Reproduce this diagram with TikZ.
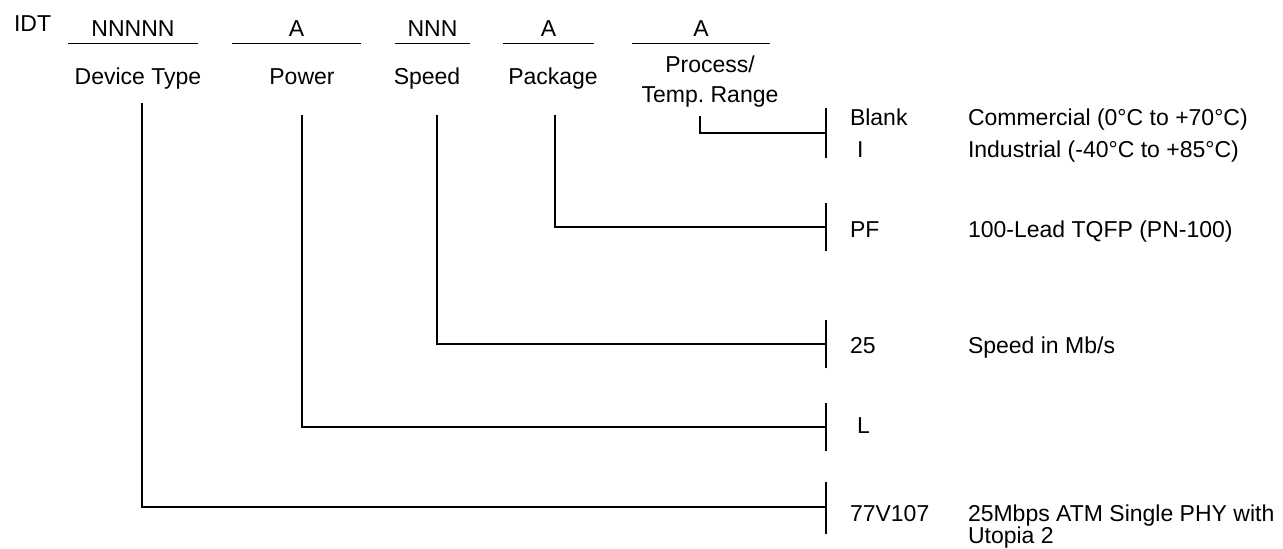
\documentclass[tikz,border=0pt]{standalone}
\usepackage{fontspec}
\setmainfont{Liberation Sans}
\frenchspacing
\begin{document}
\begin{tikzpicture}[x=1pt,y=-1pt,
  every node/.style={inner sep=0pt,outer sep=0pt,font=\fontsize{23}{30}\selectfont\frenchspacing},
  wire/.style={line width=1.3pt,line cap=butt,line join=miter},
  field/.style={anchor=base},
  code/.style={anchor=base west},
  desc/.style={anchor=base west,align=left}]
\useasboundingbox (0,0) rectangle (1283,549);
% header
\node[code] (idt) at (14,31) {IDT};
\node[field] (f1) at (133,36) {NNNNN};
\node[field] (f2) at (296.5,36) {A};
\node[field] (f3) at (432.5,36) {NNN};
\node[field] (f4) at (548.5,36) {A};
\node[field] (f5) at (701,36) {A};
\draw[wire] (68,43.5) -- (198,43.5);
\draw[wire] (232,43.5) -- (361,43.5);
\draw[wire] (395,43.5) -- (470,43.5);
\draw[wire] (503,43.5) -- (594,43.5);
\draw[wire] (632,43.5) -- (770,43.5);
\node[field] (l1) at (138,84) {Device Type};
\node[field] (l2) at (302,84) {Power};
\node[field] (l3) at (427,84) {Speed};
\node[field] (l4) at (553,84) {Package};
\node[field] (l5a) at (710,72) {Process/};
\node[field] (l5b) at (710,102) {Temp. Range};
% stems
\coordinate (s1) at (142,103);
\coordinate (s2) at (302,115);
\coordinate (s3) at (437,115);
\coordinate (s4) at (555,115);
\coordinate (s5) at (700,116);
% bar junctions
\coordinate (j5) at (826,133);
\coordinate (j4) at (826,227);
\coordinate (j3) at (826,344);
\coordinate (j2) at (826,427);
\coordinate (j1) at (826,507);
\draw[wire] (s1) |- (j1);
\draw[wire] (s2) |- (j2);
\draw[wire] (s3) |- (j3);
\draw[wire] (s4) |- (j4);
\draw[wire] (s5) |- (j5);
\draw[wire] ([yshift=-25pt]j5) -- ([yshift=25pt]j5);
\draw[wire] ([yshift=-24pt]j4) -- ([yshift=24pt]j4);
\draw[wire] ([yshift=-24pt]j3) -- ([yshift=24pt]j3);
\draw[wire] ([yshift=-24pt]j2) -- ([yshift=24pt]j2);
\draw[wire] ([yshift=-27pt]j1) -- ([yshift=25pt]j1);
% codes
\node[code] (cblank) at (850,125) {Blank};
\node[code] (ci) at (857,157) {I};
\node[code] (cpf) at (850,237) {PF};
\node[code] (c25) at (850,353) {25};
\node[code] (cl) at (857,433) {L};
\node[code] (c77) at (850,521) {77V107};
% descriptions
\node[desc] (dcom) at (968,125) {Commercial (0°C to +70°C)};
\node[desc] (dind) at (968,157) {Industrial (-40°C to +85°C)};
\node[desc] (dpf) at (968,237) {100-Lead TQFP (PN-100)};
\node[desc] (d25) at (968,353) {Speed in Mb/s};
\node[desc] (d77) at (968,521) {25Mbps ATM Single PHY with};
\node[desc] (d77b) at (968,543) {Utopia 2};
\end{tikzpicture}
\end{document}
